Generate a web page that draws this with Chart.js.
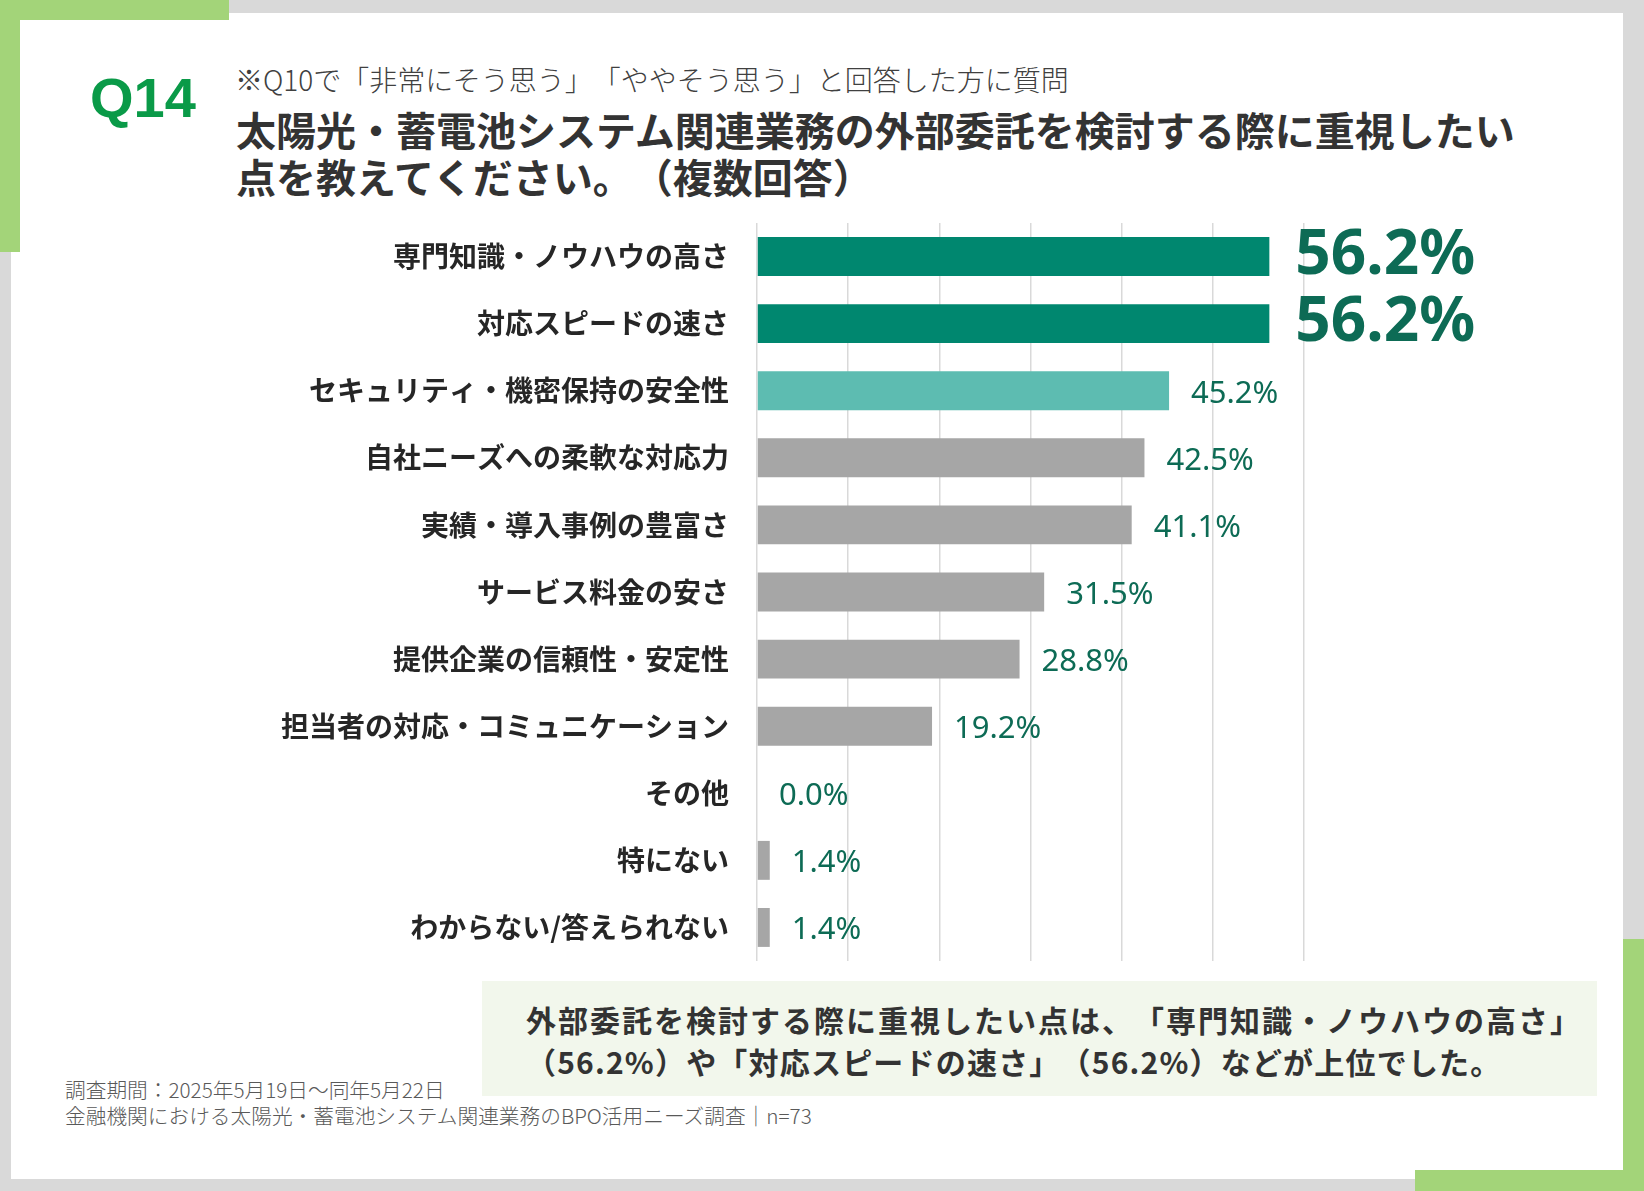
<!DOCTYPE html>
<html lang="ja">
<head>
<meta charset="utf-8">
<script src="https://cdn.jsdelivr.net/npm/chart.js@4.4.1/dist/chart.umd.min.js"></script>
<style>
  html, body { margin: 0; padding: 0; }
  body { width: 1644px; height: 1191px; position: relative; overflow: hidden; background: #d9d9d9;
         font-family: "Noto Sans CJK JP", "Noto Sans", sans-serif; text-spacing-trim: space-all; }
  .card { position: absolute; left: 11px; top: 13px; width: 1612px; height: 1166px; background: #fff; }
  .g { position: absolute; background: #a3d479; }
  #chart { position: absolute; left: 0; top: 0; }
  .txt { position: absolute; white-space: nowrap; }
  .q { left: 90px; top: 70px; font-family: "Liberation Sans", Arial, sans-serif; font-weight: bold;
       font-size: 56px; color: #0a9a48; line-height: 1; }
  .sub { left: 235px; top: 63px; font-size: 28px; font-weight: 300; color: #404040; line-height: 1.2; }
  .title { left: 236px; top: 106px; font-size: 40px; font-weight: bold; color: #333; line-height: 47px; }
  .box { position: absolute; left: 482px; top: 981px; width: 1115px; height: 115px; background: #f2f7ec; }
  .summary { left: 526px; top: 998px; font-size: 30px; font-weight: bold; color: #333; line-height: 42px; letter-spacing: 2px; }
  .summary .l2 { letter-spacing: 1.2px; }
  .foot { left: 65px; top: 1076px; font-size: 20.7px; font-weight: 300; color: #595959; line-height: 26px; }
</style>
</head>
<body>
<div class="card"></div>
<div class="g" style="left:0;top:0;width:229px;height:20px"></div>
<div class="g" style="left:0;top:0;width:20px;height:252px"></div>
<div class="g" style="left:1623px;top:939px;width:21px;height:252px"></div>
<div class="g" style="left:1415px;top:1170px;width:229px;height:21px"></div>

<div class="txt q">Q14</div>
<div class="txt sub">※Q10で「非常にそう思う」「ややそう思う」と回答した方に質問</div>
<div class="txt title">太陽光・蓄電池システム関連業務の外部委託を検討する際に重視したい<br>点を教えてください。（複数回答）</div>

<div class="box"></div>
<div class="txt summary">外部委託を検討する際に重視したい点は、「専門知識・ノウハウの高さ」<br><span class="l2">（56.2%）や「対応スピードの速さ」（56.2%）などが上位でした。</span></div>

<div class="txt foot">調査期間：2025年5月19日〜同年5月22日<br>金融機関における太陽光・蓄電池システム関連業務のBPO活用ニーズ調査｜n=73</div>

<canvas id="chart" width="1644" height="1191"></canvas>

<script>
// データ
const categories = [
  '専門知識・ノウハウの高さ',
  '対応スピードの速さ',
  'セキュリティ・機密保持の安全性',
  '自社ニーズへの柔軟な対応力',
  '実績・導入事例の豊富さ',
  'サービス料金の安さ',
  '提供企業の信頼性・安定性',
  '担当者の対応・コミュニケーション',
  'その他',
  '特にない',
  'わからない/答えられない'
];
const values = [56.2, 56.2, 45.2, 42.5, 41.1, 31.5, 28.8, 19.2, 0.0, 1.4, 1.4];
const axisTicks = [0, 10, 20, 30, 40, 50, 60];

// 色
const TOP = '#00876f';
const SECOND = '#5dbcb1';
const GRAY = '#a6a6a6';
const LABEL_GREEN = '#0d6b55';
const barColors = values.map((v, i) => i < 2 ? TOP : (i === 2 ? SECOND : GRAY));

// 値ラベル
const valueLabels = {
  id: 'valueLabels',
  afterDatasetsDraw(chart) {
    const ctx = chart.ctx;
    const meta = chart.getDatasetMeta(0);
    ctx.save();
    ctx.textBaseline = 'middle';
    ctx.textAlign = 'left';
    meta.data.forEach((bar, i) => {
      const big = i < 2;
      ctx.fillStyle = LABEL_GREEN;
      ctx.font = big ? 'bold 62px "Noto Sans", sans-serif' : '31px "Noto Sans", sans-serif';
      ctx.fillText(values[i].toFixed(1) + '%', bar.x + (big ? 26 : 22), bar.y + (big ? 0 : 3));
    });
    ctx.restore();
  }
};

new Chart(document.getElementById('chart'), {
  type: 'bar',
  data: {
    labels: categories,
    datasets: [{
      data: values,
      backgroundColor: barColors,
      borderWidth: 0,
      categoryPercentage: 1.0,
      barPercentage: 0.58
    }]
  },
  options: {
    indexAxis: 'y',
    responsive: false,
    animation: false,
    layout: { padding: { left: 0, top: 223, right: 340, bottom: 230 } },
    plugins: { legend: { display: false }, tooltip: { enabled: false } },
    scales: {
      x: {
        min: axisTicks[0],
        max: axisTicks[axisTicks.length - 1],
        afterBuildTicks: s => { s.ticks = axisTicks.map(v => ({ value: v })); },
        afterFit: s => { s.height = 0; },
        ticks: { display: false },
        border: { display: false },
        grid: { color: '#d9d9d9', lineWidth: 1.5, drawTicks: false }
      },
      y: {
        afterFit: s => { s.width = 757; },
        grid: { display: false, drawTicks: false },
        border: { display: false },
        ticks: {
          autoSkip: false,
          padding: 28,
          color: '#262626',
          font: { family: '"Noto Sans CJK JP", sans-serif', size: 28, weight: 'bold' }
        }
      }
    }
  },
  plugins: [valueLabels]
});
</script>
</body>
</html>
